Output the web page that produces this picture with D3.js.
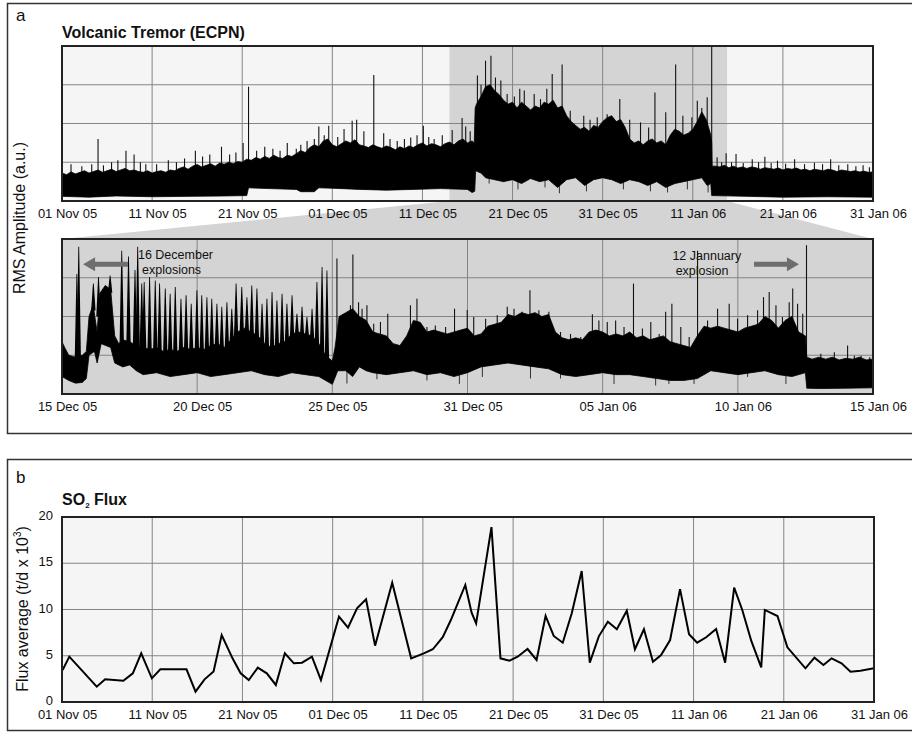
<!DOCTYPE html>
<html>
<head>
<meta charset="utf-8">
<script src="https://cdn.jsdelivr.net/npm/d3@7"></script>
<style>
  body { margin: 0; background: #fff; }
  text { font-family: "Liberation Sans", Arial, sans-serif; fill: #111; }
</style>
</head>
<body>
<svg id="fig" width="912" height="732"></svg>
<script>
// ---- data ----
// panel a (top): days since 01 Nov 05, tremor envelope in arbitrary units
const topTickDays = [0, 10, 20, 30, 40, 50, 60, 70, 80, 90];
const topTickLabels = ["01 Nov 05", "11 Nov 05", "21 Nov 05", "01 Dec 05", "11 Dec 05",
  "21 Dec 05", "31 Dec 05", "11 Jan 06", "21 Jan 06", "31 Jan 06"];
const shadeDays = [43.0, 73.8];

const topHi = [
  [0,0.72],[0.5,0.68],[1,0.75],[1.5,0.7],[2,0.74],[2.5,0.78],[3,0.72],[3.5,0.76],[4,0.8],[4.5,0.74],[5,0.78],[5.5,0.82],[6,0.76],[6.5,0.8],[7,0.84],[7.5,0.78],[8,0.8],[8.5,0.76],[9,0.74],[9.5,0.78],[10,0.72],
  [10.5,0.76],[11,0.78],[11.5,0.74],[12,0.8],[12.5,0.78],[13,0.84],[13.5,0.88],[14,0.82],[14.5,0.9],[15,0.94],[15.5,0.88],[16,0.92],[16.5,0.96],[17,0.9],[17.5,0.98],[18,0.95],[18.5,1.0],[19,0.96],[19.5,1.02],[20,1.0],
  [20.5,1.08],[21,1.05],[21.5,1.12],[22,1.08],[22.5,1.15],[23,1.1],[23.5,1.18],[24,1.12],[24.5,1.1],[25,1.18],[25.5,1.15],[26,1.22],[26.5,1.3],[27,1.25],[27.5,1.38],[28,1.45],[28.5,1.4],[29,1.55],[29.5,1.6],[30,1.45],
  [30.5,1.4],[31,1.48],[31.5,1.55],[32,1.5],[32.5,1.58],[33,1.45],[33.5,1.42],[34,1.38],[34.5,1.45],[35,1.4],[35.5,1.36],[36,1.42],[36.5,1.38],[37,1.32],[37.5,1.4],[38,1.35],[38.5,1.42],[39,1.38],[39.5,1.45],[40,1.5],
  [40.5,1.42],[41,1.48],[41.5,1.45],[42,1.4],[42.5,1.48],[43,1.52],[43.5,1.45],[44,1.55],[44.5,1.6],[45,1.5],[45.5,1.55],[45.75,1.5],
  [45.85,2.4],[46,2.5],[46.5,2.7],[47,2.95],[47.5,3.0],[48,2.85],[48.5,2.75],[49,2.6],[49.5,2.5],[50,2.55],[50.5,2.4],[51,2.55],[51.5,2.45],[52,2.35],[52.5,2.45],[53,2.4],[53.5,2.55],[54,2.5],[54.5,2.6],[55,2.4],[55.5,2.45],
  [56,2.2],[56.5,2.05],[57,1.95],[57.5,1.85],[58,1.9],[58.5,1.8],[59,1.95],[59.5,1.9],[60,2.05],[60.5,2.15],[61,2.2],[61.5,2.05],[62,2.1],[62.5,1.9],[63,1.6],[63.5,1.5],[64,1.55],[64.5,1.45],[65,1.55],[65.5,1.6],
  [66,1.5],[66.5,1.55],[67,1.45],[67.5,1.7],[68,1.85],[68.5,1.8],[69,1.7],[69.5,1.75],[70,1.85],[70.5,2.05],[71,2.3],[71.5,2.1],[72,1.7],[72.1,1.5],
  [72.15,0.9],[72.5,0.9],[73,0.88],[73.5,0.92],[74,0.86],[74.5,0.9],[75,0.85],[75.5,0.88],[76,0.84],[76.5,0.88],[77,0.86],[77.5,0.82],[78,0.86],[78.5,0.84],[79,0.82],[79.5,0.85],[80,0.8],
  [80.5,0.84],[81,0.82],[81.5,0.85],[82,0.8],[82.5,0.82],[83,0.78],[83.5,0.82],[84,0.8],[84.5,0.78],[85,0.82],[85.5,0.8],[86,0.76],[86.5,0.8],[87,0.78],[87.5,0.76],[88,0.78],[88.5,0.75],[89,0.77],[89.5,0.74],[90,0.75]
];
const topLo = [
  [0,0.12],[3,0.1],[6,0.13],[10,0.11],[14,0.12],[18,0.13],[20.5,0.14],[20.7,0.34],[23,0.32],[26,0.3],[26.5,0.24],[28,0.24],[28.5,0.34],[30,0.33],
  [33,0.3],[36,0.28],[39,0.3],[42,0.32],[45,0.3],[45.5,0.22],[45.8,0.25],[45.9,0.78],[46.5,0.72],[47,0.6],[48,0.55],[49,0.5],[50,0.55],[51,0.45],
  [52,0.58],[53,0.5],[54,0.55],[55,0.35],[56,0.55],[57,0.6],[58,0.4],[59,0.55],[60,0.6],[61,0.55],[62,0.45],[63,0.55],[64,0.5],[65,0.4],[66,0.5],
  [67,0.35],[68,0.45],[69,0.5],[70,0.55],[71,0.6],[71.6,0.4],[72.0,0.45],[72.1,0.14],[76,0.12],[80,0.1],[85,0.11],[90,0.1]
];
const topSpikes = [
  [1.0,0.95],[2.2,0.9],[3.3,0.95],[4.0,1.6],[4.6,0.92],[5.5,1.0],[6.2,1.05],[7.1,1.3],[8.0,1.2],[8.7,1.0],[9.3,0.95],[10.5,0.95],[11.8,1.05],[12.7,1.0],
  [13.6,1.1],[14.8,1.3],[15.6,1.15],[16.4,1.2],[17.7,1.4],[18.6,1.2],[19.3,1.25],[20.1,1.5],[20.7,2.95],[21.6,1.3],[22.5,1.4],[23.4,1.35],[24.2,1.3],
  [25.0,1.5],[26.0,1.35],[26.5,1.45],[27.2,1.55],[28.0,1.6],[28.5,1.92],[29.1,1.7],[29.6,1.94],
  [30.6,1.65],[31.3,1.86],[32.2,2.07],[32.7,2.1],[33.5,1.8],[34.6,3.25],[35.7,1.75],[36.4,1.6],[37.2,1.55],[38.0,1.6],[38.7,1.64],[39.4,1.7],[40.1,1.94],
  [40.7,1.65],[41.3,1.6],[42.2,1.7],[43.3,1.83],[44.4,2.14],[44.8,1.92],[45.3,1.8],
  [46.1,3.24],[46.5,3.0],[47.0,3.62],[47.6,3.75],[48.1,3.19],[48.7,3.11],[49.4,2.76],[50.2,2.7],[50.8,2.9],[51.3,2.85],[52.4,2.76],[53.1,2.63],[53.8,2.9],
  [54.4,3.28],[55.5,3.52],[56.4,2.33],[57.9,2.2],[58.6,2.1],[59.4,2.16],[60.5,2.24],[61.9,2.63],[63.0,2.1],[64.2,2.03],[65.1,1.9],[65.8,2.8],[67.0,2.29],
  [68.1,3.52],[68.9,2.2],[69.9,2.16],[70.5,2.59],[71.0,2.4],[71.6,2.68],[72.1,4.0],
  [72.7,1.13],[73.2,1.0],[73.7,1.23],[74.3,1.0],[74.8,1.21],[75.6,0.98],[76.6,1.08],[77.3,1.0],[78.0,1.14],[78.7,0.98],[79.4,1.04],[80.3,0.96],[81.3,1.08],
  [82.4,0.95],[83.5,0.99],[84.4,0.95],[85.3,1.08],[86.2,0.92],[87.2,0.95],[88.1,0.9],[88.9,0.92],[89.6,0.87]
];
// short downward excursions below the tremor band
const topDips = [[47.4,0.45],[50.6,0.3],[53.6,0.35],[55.2,0.2],[58.2,0.25],[62.3,0.3],[65.3,0.25],[67.2,0.22],[69.4,0.3],[71.7,0.22]];

// panel a (zoom): days since 15 Dec 05
const zoomTickDays = [0, 5, 10, 15, 20, 25, 30];
const zoomTickLabels = ["15 Dec 05", "20 Dec 05", "25 Dec 05", "31 Dec 05", "05 Jan 06", "10 Jan 06", "15 Jan 06"];
const zoomHi = [
  [0,1.35],[0.1,1.2],[0.25,1.0],[0.5,0.95],[0.75,1.0],[0.9,1.1],[1.0,2.0],[1.15,2.3],[1.3,1.6],[1.4,2.6],[1.6,2.8],[1.8,2.7],[1.95,1.5],[2.1,1.3],[2.25,1.4],
  [2.5,1.35],[2.75,1.25],[3.0,1.2],[3.25,1.15],[3.5,1.2],[3.75,1.1],[4.0,1.15],[4.25,1.1],[4.5,1.2],[4.75,1.15],[5.0,1.2],[5.25,1.15],[5.5,1.25],[5.75,1.3],
  [6.0,1.2],[6.25,1.4],[6.5,1.6],[6.75,1.7],[7.0,1.6],[7.25,1.5],[7.5,1.3],[7.75,1.2],[8.0,1.3],[8.25,1.35],[8.5,1.55],[8.75,1.6],[9.0,1.55],[9.25,1.5],
  [9.5,1.3],[9.75,1.0],[10.0,0.85],[10.1,1.2],[10.25,2.0],[10.5,2.1],[10.75,2.2],[11.0,2.0],[11.25,1.9],[11.5,1.6],[11.75,1.55],[12.0,1.5],[12.25,1.3],
  [12.5,1.25],[12.75,1.5],[13.0,1.9],[13.25,1.85],[13.5,1.6],[13.75,1.65],[14.0,1.6],[14.25,1.55],[14.5,1.6],[14.75,1.65],[15.0,1.7],[15.25,1.5],[15.5,1.55],
  [15.75,1.75],[16.0,1.8],[16.25,1.85],[16.5,2.05],[16.75,2.0],[17.0,2.1],[17.25,2.05],[17.5,2.1],[17.75,2.0],[18.0,2.05],[18.25,1.6],[18.5,1.45],[18.75,1.4],
  [19.0,1.45],[19.25,1.4],[19.5,1.6],[19.75,1.65],[20.0,1.6],[20.25,1.5],[20.5,1.55],[20.75,1.5],[21.0,1.6],[21.25,1.45],[21.5,1.5],[21.75,1.4],[22.0,1.45],
  [22.25,1.5],[22.5,1.35],[22.75,1.3],[23.0,1.25],[23.25,1.2],[23.5,1.5],[23.75,1.75],[24.0,1.7],[24.25,1.75],[24.5,1.7],[24.75,1.65],[25.0,1.6],[25.25,1.7],
  [25.5,1.75],[25.75,1.8],[26.0,2.0],[26.25,1.9],[26.5,1.7],[26.75,1.9],[27.0,2.0],[27.25,1.6],[27.5,1.5],[27.55,0.95],[27.75,0.9],[28.0,0.95],[28.25,0.9],
  [28.5,0.95],[28.75,0.88],[29.0,0.92],[29.25,0.9],[29.5,0.95],[29.75,0.88],[30.0,0.9]
];
const zoomLo = [
  [0,0.45],[0.25,0.35],[0.5,0.28],[0.75,0.3],[0.9,0.4],[1.0,1.0],[1.2,1.1],[1.3,0.8],[1.45,1.3],[1.8,1.2],[1.95,0.8],[2.25,0.7],[2.5,0.75],[2.75,0.6],
  [3.0,0.5],[3.5,0.55],[4.0,0.45],[4.5,0.5],[5.0,0.55],[5.5,0.45],[6.0,0.5],[6.5,0.55],[7.0,0.6],[7.5,0.5],[8.0,0.45],[8.5,0.55],[9.0,0.5],[9.5,0.45],
  [9.75,0.35],[10.0,0.25],[10.2,0.6],[10.5,0.6],[10.75,0.45],[11.0,0.7],[11.25,0.6],[11.5,0.55],[12.0,0.5],[12.5,0.55],[13.0,0.6],[13.5,0.5],[14.0,0.55],
  [14.5,0.45],[15.0,0.55],[15.5,0.7],[16.0,0.75],[16.5,0.8],[17.0,0.75],[17.5,0.7],[18.0,0.65],[18.5,0.5],[19.0,0.45],[19.5,0.5],[20.0,0.55],[20.5,0.5],
  [21.0,0.5],[21.5,0.45],[22.0,0.4],[22.5,0.35],[23.0,0.35],[23.5,0.4],[24.0,0.6],[24.5,0.55],[25.0,0.5],[25.5,0.55],[26.0,0.6],[26.5,0.5],[27.0,0.45],
  [27.5,0.55],[27.55,0.15],[28.0,0.14],[29.0,0.15],[30.0,0.16]
];
// 16-25 Dec explosion bursts
const combSpikes = [
  [0.55,3.1],[0.62,3.8],[1.16,2.85],[1.35,3.02],[1.55,2.7],[1.78,3.06],[2.21,3.7],[2.46,3.55],[2.70,3.2],[2.80,3.8],
  [2.95,2.85],[3.04,2.89],[3.24,3.02],[3.45,2.93],[3.61,2.85],[3.82,2.72],[4.00,2.59],[4.19,2.76],[4.40,2.46],[4.59,2.55],[4.78,2.33],[4.99,2.68],
  [5.17,2.55],[5.36,2.50],[5.54,2.46],[5.73,2.33],[5.91,2.25],[6.10,2.37],[6.28,2.20],[6.44,2.85],[6.65,2.76],[6.84,2.50],[7.02,2.80],[7.21,2.72],
  [7.40,2.33],[7.58,2.46],[7.77,2.63],[7.95,2.41],[8.14,2.59],[8.32,2.33],[8.51,2.55],[8.69,2.07],[8.88,2.25],[9.06,1.99],[9.25,2.20],[9.43,2.89],
  [9.62,3.28],[9.80,3.19]
];
const zoomSpikes = [
  [10.17,3.5],[10.36,1.99],[10.67,2.29],[10.76,3.6],[10.97,2.37],[11.10,2.2],[11.28,2.29],[11.53,1.81],[11.78,1.86],[12.05,2.07],[12.89,2.29],[13.13,2.46],
  [13.50,1.73],[13.81,1.77],[14.19,1.73],[14.52,2.2],[14.99,2.17],[15.23,1.99],[15.67,1.94],[16.10,2.03],[16.47,2.25],[16.72,2.2],[17.02,2.12],[17.31,2.68],
  [17.64,2.16],[18.01,2.12],[18.44,1.6],[18.81,1.55],[19.19,1.47],[19.62,2.06],[19.86,1.9],[20.17,1.86],[20.48,1.9],[20.79,1.73],[21.14,2.85],[21.47,1.69],
  [21.78,1.86],[22.09,1.55],[22.33,2.12],[22.56,2.33],[22.89,1.73],[23.2,1.47],[23.51,3.7],[23.88,1.9],[24.25,2.2],[24.68,2.33],[24.99,1.94],[25.36,2.03],
  [25.73,2.16],[25.95,2.5],[26.16,2.63],[26.41,2.29],[26.65,1.99],[26.90,2.37],[27.03,2.72],[27.21,2.33],[27.40,2.07],[27.54,3.84],
  [27.83,0.87],[28.07,1.04],[28.57,1.08],[29.06,1.25],[29.31,0.99],[29.56,0.99],[29.88,0.95]
];
const zoomDips = [[10.54,0.27],[11.65,0.38],[13.5,0.35],[14.7,0.26],[15.55,0.44],[17.33,0.4],[18.44,0.4],[19.12,0.48],
  [20.42,0.26],[21.96,0.22],[22.45,0.26],[23.38,0.26],[25.36,0.44],[26.78,0.26]];

// panel b: SO2 flux (t/d x 10^3), days since 01 Nov 05
const fluxTicks = [0, 5, 10, 15, 20];
const fluxDay = [0.07,0.81,3.85,4.78,6.8,7.85,8.78,9.96,10.9,13.8,14.8,15.8,16.8,17.7,18.9,19.8,20.7,21.7,22.7,23.7,
  24.7,25.7,26.6,27.7,28.7,30.7,31.7,32.7,33.7,34.7,36.6,38.7,40.1,41.1,42.2,43.1,44.7,45.4,45.9,47.6,
  48.6,49.6,50.5,51.6,52.6,53.6,54.5,55.5,56.5,57.6,58.5,59.5,60.5,61.5,62.6,63.5,64.5,65.5,66.4,67.4,
  68.5,69.5,70.4,71.4,72.5,73.5,74.5,75.4,76.4,77.5,77.9,79.3,80.4,82.4,83.4,84.4,85.3,86.4,87.4,88.5,90];
const fluxValue = [3.46,4.9,1.66,2.45,2.3,3.1,5.26,2.56,3.53,3.53,1.12,2.45,3.3,7.24,4.72,3.1,2.38,3.71,3.1,1.84,
  5.26,4.18,4.25,4.9,2.38,9.22,8.03,10.13,11.1,6.09,12.9,4.72,5.26,5.7,7.0,8.86,12.65,9.66,8.5,18.9,
  4.72,4.47,4.9,5.73,4.54,9.3,7.14,6.41,9.59,14.16,4.25,7.1,8.68,7.86,9.87,5.7,7.86,4.36,5.08,6.7,
  12.2,7.32,6.41,7.0,7.9,4.25,12.36,9.95,6.6,3.75,9.95,9.3,5.91,3.64,4.79,4.0,4.72,4.18,3.28,3.39,3.64];

// ---- drawing ----
const svg = d3.select("#fig");
const gridColor = "#858585";
const frameColor = "#222";

const xTop = d3.scaleLinear().domain([0, 90]).range([62, 873]);
const yTop = d3.scaleLinear().domain([0, 4]).range([201, 46]);
const xZoom = d3.scaleLinear().domain([0, 30]).range([62, 873]);
const yZoom = d3.scaleLinear().domain([0, 4]).range([394, 239]);
const xFlux = d3.scaleLinear().domain([0, 90]).range([62, 874]);
const yFlux = d3.scaleLinear().domain([0, 20]).range([702, 517]);

// outer panel boxes
svg.append("rect").attr("x", 7.5).attr("y", 3.5).attr("width", 920).attr("height", 430)
  .attr("fill", "none").attr("stroke", "#333").attr("stroke-width", 1.5);
svg.append("rect").attr("x", 7.5).attr("y", 459.5).attr("width", 920).attr("height", 271)
  .attr("fill", "none").attr("stroke", "#333").attr("stroke-width", 1.5);

svg.append("text").attr("x", 16).attr("y", 21).attr("font-size", 17).text("a");
svg.append("text").attr("x", 16).attr("y", 483).attr("font-size", 17).text("b");
svg.append("text").attr("x", 62).attr("y", 38).attr("font-size", 16).attr("font-weight", "bold")
  .text("Volcanic Tremor (ECPN)");
const so2 = svg.append("text").attr("x", 62).attr("y", 505).attr("font-size", 16).attr("font-weight", "bold");
so2.append("tspan").text("SO");
so2.append("tspan").attr("font-size", 8).attr("dy", 3).text("2");
so2.append("tspan").attr("dy", -3).text(" Flux");

svg.append("text").attr("transform", "translate(25,218) rotate(-90)")
  .attr("text-anchor", "middle").attr("font-size", 16).text("RMS Amplitude (a.u.)");
const fl = svg.append("text").attr("transform", "translate(28,609) rotate(-90)")
  .attr("text-anchor", "middle").attr("font-size", 16);
fl.append("tspan").text("Flux average (t/d x 10");
fl.append("tspan").attr("font-size", 10).attr("dy", -7).text("3");
fl.append("tspan").attr("dy", 7).text(")");

// helpers
function lerpScale(pairs) {
  return d3.scaleLinear().domain(pairs.map(d => d[0])).range(pairs.map(d => d[1])).clamp(true);
}

function drawGrid(g, x, y, xt, yt) {
  const [x0, x1] = x.range();
  const [y0, y1] = y.range();
  g.selectAll(".vg").data(xt).join("line")
    .attr("x1", d => x(d)).attr("x2", d => x(d)).attr("y1", y0).attr("y2", y1)
    .attr("stroke", gridColor).attr("stroke-width", 1);
  g.selectAll(".hg").data(yt).join("line")
    .attr("x1", x0).attr("x2", x1).attr("y1", d => y(d)).attr("y2", d => y(d))
    .attr("stroke", gridColor).attr("stroke-width", 1);
}

function drawAxis(yPos, x, ticks, labels) {
  const ax = svg.append("g").attr("transform", `translate(0,${yPos})`)
    .call(d3.axisBottom(x).tickValues(ticks).tickFormat((d, i) => labels[i]).tickSize(0).tickPadding(8));
  ax.select(".domain").remove();
  ax.selectAll("text").attr("font-size", 13).attr("dx", 5)
    .style("font-family", '"Liberation Sans", Arial, sans-serif').attr("fill", "#111");
}

function drawTrace(g, x, y, hi, lo) {
  const poly = hi.concat(lo.slice().reverse());
  const line = d3.line().x(d => x(d[0])).y(d => y(d[1])).curve(d3.curveLinearClosed);
  g.append("path").attr("d", line(poly)).attr("fill", "#000")
    .attr("stroke", "#000").attr("stroke-width", 0.8).attr("stroke-linejoin", "round");
}

// thin vertical excursions anchored inside the band
function drawSpikes(g, x, y, spikes, lo, width, color) {
  const loAt = lerpScale(lo);
  g.selectAll(null).data(spikes).join("line")
    .attr("x1", d => x(d[0])).attr("x2", d => x(d[0]))
    .attr("y1", d => y(loAt(d[0]) + 0.15)).attr("y2", d => y(d[1]))
    .attr("stroke", color).attr("stroke-width", width);
}

// narrow burst peaks rising from the top of the band
function drawBursts(g, x, y, spikes, hi) {
  const hiAt = lerpScale(hi);
  g.selectAll(null).data(spikes).join("path")
    .attr("d", d => {
      const cx = x(d[0]), base = y(hiAt(d[0]) - 0.1), top = y(d[1]);
      return `M${cx - 2.2},${base}L${cx - 0.4},${top}L${cx + 0.4},${top}L${cx + 2.2},${base}Z`;
    })
    .attr("fill", "#000");
}

// ---- top overview plot ----
const defs = svg.append("defs");
defs.append("clipPath").attr("id", "clipTop").append("rect")
  .attr("x", 62).attr("y", 46).attr("width", 811).attr("height", 155);
defs.append("clipPath").attr("id", "clipZoom").append("rect")
  .attr("x", 62).attr("y", 239).attr("width", 811).attr("height", 155);
defs.append("clipPath").attr("id", "clipFlux").append("rect")
  .attr("x", 62).attr("y", 517).attr("width", 812).attr("height", 185);

svg.append("rect").attr("x", 62).attr("y", 46).attr("width", 811).attr("height", 155).attr("fill", "#f5f5f5");
svg.append("rect").attr("x", xTop(shadeDays[0])).attr("y", 46)
  .attr("width", xTop(shadeDays[1]) - xTop(shadeDays[0])).attr("height", 155).attr("fill", "#d4d4d4");
// connector from shaded window to zoom panel
svg.append("path").attr("fill", "#d4d4d4").attr("d", d3.line()([
  [xTop(shadeDays[0]), yTop(0)], [xTop(shadeDays[1]), yTop(0)],
  [xZoom(30), yZoom(4)], [xZoom(0), yZoom(4)]
]) + "Z");

const gTop = svg.append("g").attr("clip-path", "url(#clipTop)");
drawGrid(gTop, xTop, yTop, topTickDays.slice(1, -1), [1, 2, 3]);
drawSpikes(gTop, xTop, yTop, topSpikes, topLo, 1.1, "#111");
drawSpikes(gTop, xTop, yTop, topDips, topLo, 1, "#333");
drawTrace(gTop, xTop, yTop, topHi, topLo);
svg.append("rect").attr("x", 62).attr("y", 46).attr("width", 811).attr("height", 155)
  .attr("fill", "none").attr("stroke", frameColor).attr("stroke-width", 2);
drawAxis(201, xTop, topTickDays, topTickLabels);

// ---- zoom plot ----
svg.append("rect").attr("x", 62).attr("y", 239).attr("width", 811).attr("height", 155).attr("fill", "#d4d4d4");
const gZoom = svg.append("g").attr("clip-path", "url(#clipZoom)");
drawGrid(gZoom, xZoom, yZoom, zoomTickDays.slice(1, -1), [1, 2, 3]);
drawSpikes(gZoom, xZoom, yZoom, zoomSpikes, zoomLo, 1.1, "#111");
drawSpikes(gZoom, xZoom, yZoom, zoomDips, zoomLo, 1, "#333");
drawBursts(gZoom, xZoom, yZoom, combSpikes, zoomHi);
drawTrace(gZoom, xZoom, yZoom, zoomHi, zoomLo);
svg.append("rect").attr("x", 62).attr("y", 239).attr("width", 811).attr("height", 155)
  .attr("fill", "none").attr("stroke", frameColor).attr("stroke-width", 2);
drawAxis(394, xZoom, zoomTickDays, zoomTickLabels);

// annotations
const arrowColor = "#6e6e6e";
function arrow(fromDay, toDay, val) {
  const x0 = xZoom(fromDay), x1 = xZoom(toDay), y = yZoom(val);
  const dir = Math.sign(x1 - x0);
  const hx = x1 - dir * 12;
  svg.append("path").attr("fill", arrowColor).attr("d",
    `M${x0},${y - 2.5}L${hx},${y - 2.5}L${hx},${y - 7}L${x1},${y}L${hx},${y + 7}L${hx},${y + 2.5}L${x0},${y + 2.5}Z`);
}
arrow(2.44, 0.78, 3.35);
arrow(25.6, 27.26, 3.35);
svg.append("text").attr("x", xZoom(2.81)).attr("y", 259).attr("font-size", 12.5).text("16 December");
svg.append("text").attr("x", xZoom(2.96)).attr("y", 274).attr("font-size", 12.5).text("explosions");
svg.append("text").attr("x", xZoom(22.58)).attr("y", 260).attr("font-size", 12.5).text("12 Jannuary");
svg.append("text").attr("x", xZoom(22.7)).attr("y", 275).attr("font-size", 12.5).text("explosion");

// ---- SO2 flux plot ----
svg.append("rect").attr("x", 62).attr("y", 517).attr("width", 812).attr("height", 185).attr("fill", "#f5f5f5");
const gFlux = svg.append("g").attr("clip-path", "url(#clipFlux)");
drawGrid(gFlux, xFlux, yFlux, topTickDays.slice(1, -1), [5, 10, 15]);
const fluxPts = fluxDay.map((d, i) => [d, fluxValue[i]]);
gFlux.append("path").datum(fluxPts)
  .attr("d", d3.line().x(d => xFlux(d[0])).y(d => yFlux(d[1])))
  .attr("fill", "none").attr("stroke", "#000").attr("stroke-width", 2).attr("stroke-linejoin", "miter");
svg.append("rect").attr("x", 62).attr("y", 517).attr("width", 812).attr("height", 185)
  .attr("fill", "none").attr("stroke", frameColor).attr("stroke-width", 2);
const yAx = svg.append("g").attr("transform", "translate(62,0)")
  .call(d3.axisLeft(yFlux).tickValues(fluxTicks).tickSize(0).tickPadding(9));
yAx.select(".domain").remove();
yAx.selectAll("text").attr("font-size", 13).attr("dy", "0.2em")
  .style("font-family", '"Liberation Sans", Arial, sans-serif').attr("fill", "#111");
drawAxis(702, xFlux, topTickDays, topTickLabels);
</script>
</body>
</html>
